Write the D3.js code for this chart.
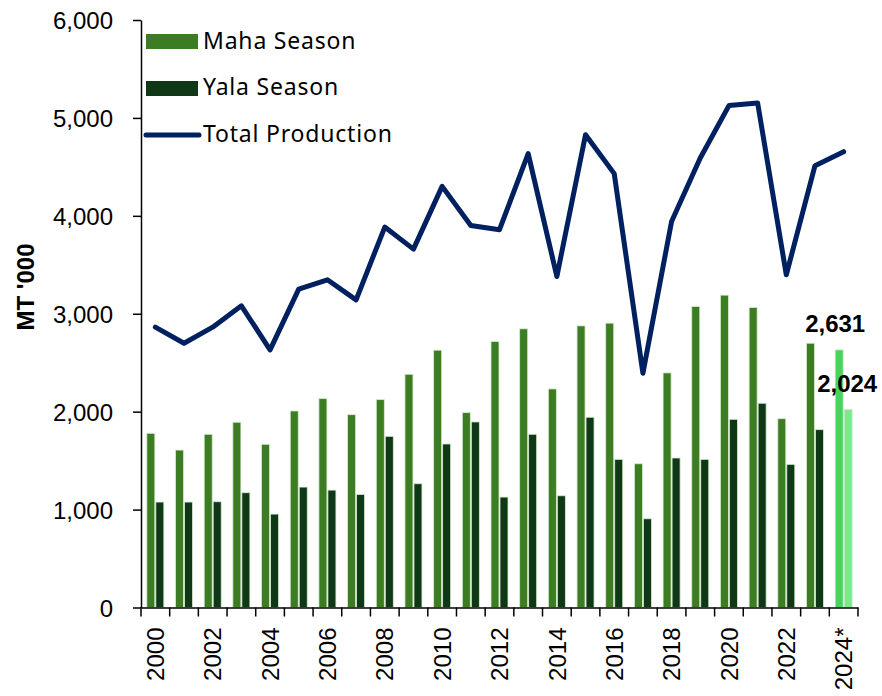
<!DOCTYPE html>
<html>
<head>
<meta charset="utf-8">
<script src="https://cdn.jsdelivr.net/npm/d3@7"></script>
<style>
  html, body { margin: 0; padding: 0; background: #fff; }
  svg { display: block; }
</style>
</head>
<body>
<svg id="chart" width="882" height="696"></svg>
<script>
const years = ["2000","2001","2002","2003","2004","2005","2006","2007","2008","2009","2010","2011","2012","2013","2014","2015","2016","2017","2018","2019","2020","2021","2022","2023","2024*"];
const maha = [1779,1608,1769,1892,1667,2007,2133,1969,2123,2382,2628,1990,2716,2846,2232,2876,2904,1468,2396,3074,3190,3064,1928,2699,2631];
const yala = [1077,1077,1080,1172,954,1230,1199,1155,1748,1264,1670,1895,1128,1769,1141,1943,1513,906,1527,1513,1922,2086,1462,1816,2024];
const total = [2863,2699,2863,3081,2631,3251,3347,3142,3885,3660,4301,3902,3858,4635,3381,4829,4431,2393,3943,4591,5126,5153,3398,4512,4655];
const yTicks = [0,1000,2000,3000,4000,5000,6000];
const dataLabels = ["2,631","2,024"];
const seriesNames = ["Maha Season","Yala Season","Total Production"];

(function () {
const colMaha = "#3c7d23", colYala = "#0f3816", colLine = "#002060";
const colMaha24 = "#45d45c", colYala24 = "#78ec8d";
const axisFont = "Liberation Sans, Arial, sans-serif";

const svg = d3.select("#chart");
const mLeft = 141, mRight = 858, mTop = 20, mBottom = 607.5;

const x = d3.scaleBand().domain(years).range([mLeft, mRight]).paddingInner(0).paddingOuter(0);
const y = d3.scaleLinear().domain([0, 6000]).range([mBottom, mTop]);

const bw = x.bandwidth();
const barW = 8;
const gap = 1;

// bars
const g = svg.append("g");
years.forEach((yr, i) => {
  const isLast = i === years.length - 1;
  const cx = x(yr) + bw / 2;
  g.append("rect")
    .attr("x", cx - gap/2 - barW).attr("y", y(maha[i]))
    .attr("width", barW).attr("height", y(0) - y(maha[i]))
    .attr("fill", isLast ? colMaha24 : colMaha)
    .attr("stroke", "#d7ead0").attr("stroke-width", 0.8);
  g.append("rect")
    .attr("x", cx + gap/2).attr("y", y(yala[i]))
    .attr("width", barW).attr("height", y(0) - y(yala[i]))
    .attr("fill", isLast ? colYala24 : colYala)
    .attr("stroke", "#d7ead0").attr("stroke-width", 0.8);
});

// line
const line = d3.line().x((d, i) => x(years[i]) + bw / 2).y(d => y(d));
svg.append("path").datum(total)
  .attr("d", line).attr("fill", "none")
  .attr("stroke", colLine).attr("stroke-width", 5)
  .attr("stroke-linejoin", "round").attr("stroke-linecap", "round");

// y axis
const yAxis = d3.axisLeft(y).tickValues(yTicks).tickSize(8).tickSizeOuter(0)
  .tickFormat(d3.format(","));
const ya = svg.append("g").attr("transform", `translate(${mLeft},0)`).call(yAxis);
ya.select(".domain").attr("stroke", "#000").attr("stroke-width", 1.5);
ya.selectAll(".tick line").attr("stroke", "#000").attr("stroke-width", 1.5);
ya.selectAll(".tick text").attr("font-family", axisFont)
  .attr("font-size", 24).attr("fill", "#000").attr("x", -28).attr("dy", "0.36em");

// x axis
const xAxis = d3.axisBottom(x).tickSize(0).tickSizeOuter(0)
  .tickFormat((d, i) => i % 2 === 0 ? d : "");
const xa = svg.append("g").attr("transform", `translate(0,${mBottom})`).call(xAxis);
xa.select(".domain").attr("stroke", "#000").attr("stroke-width", 1.5);
xa.selectAll(".tick text")
  .attr("font-family", axisFont).attr("font-size", 24).attr("fill", "#000")
  .attr("transform", "rotate(-90)").attr("text-anchor", "end")
  .attr("x", -20).attr("y", 0).attr("dy", "0.36em");
// tick marks at band boundaries
const bounds = years.map(d => x(d)).concat([mRight]);
xa.selectAll(".btick").data(bounds).enter().append("line")
  .attr("x1", d => d).attr("x2", d => d).attr("y1", 0).attr("y2", 9)
  .attr("stroke", "#000").attr("stroke-width", 1.5);

// y title
svg.append("text")
  .attr("transform", `translate(34,287) rotate(-90)`)
  .attr("text-anchor", "middle")
  .attr("font-family", axisFont).attr("font-weight", "bold")
  .attr("font-size", 24).attr("fill", "#000").text("MT '000");

// data labels for 2024*
const last = years.length - 1;
const cxL = x(years[last]) + bw / 2;
svg.append("text").attr("x", cxL - gap/2 - barW/2 - 4).attr("y", y(maha[last]) - 18)
  .attr("text-anchor", "middle")
  .attr("font-family", axisFont).attr("font-weight", "bold")
  .attr("font-size", 24).attr("fill", "#000").text(dataLabels[0]);
svg.append("text").attr("x", cxL + gap/2 + barW/2 - 1).attr("y", y(yala[last]) - 17)
  .attr("text-anchor", "middle")
  .attr("font-family", axisFont).attr("font-weight", "bold")
  .attr("font-size", 24).attr("fill", "#000").text(dataLabels[1]);

// legend
const lg = svg.append("g");
const legFont = "Noto Sans, sans-serif";
const legRows = [
  {name: seriesNames[0], type: "rect", color: colMaha, cy: 41.5, base: 48.5},
  {name: seriesNames[1], type: "rect", color: colYala, cy: 88.5, base: 95},
  {name: seriesNames[2], type: "line", color: colLine, cy: 135, base: 142}
];
legRows.forEach(r => {
  if (r.type === "rect") {
    lg.append("rect").attr("x", 146).attr("y", r.cy - 7.5).attr("width", 52).attr("height", 15).attr("fill", r.color);
  } else {
    lg.append("line").attr("x1", 146).attr("x2", 199).attr("y1", r.cy).attr("y2", r.cy)
      .attr("stroke", r.color).attr("stroke-width", 5).attr("stroke-linecap", "round");
  }
  lg.append("text").attr("x", 203).attr("y", r.base)
    .attr("font-family", legFont).attr("font-size", 23).attr("letter-spacing", 0.8)
    .attr("fill", "#000").text(r.name);
});
})();
</script>
</body>
</html>
